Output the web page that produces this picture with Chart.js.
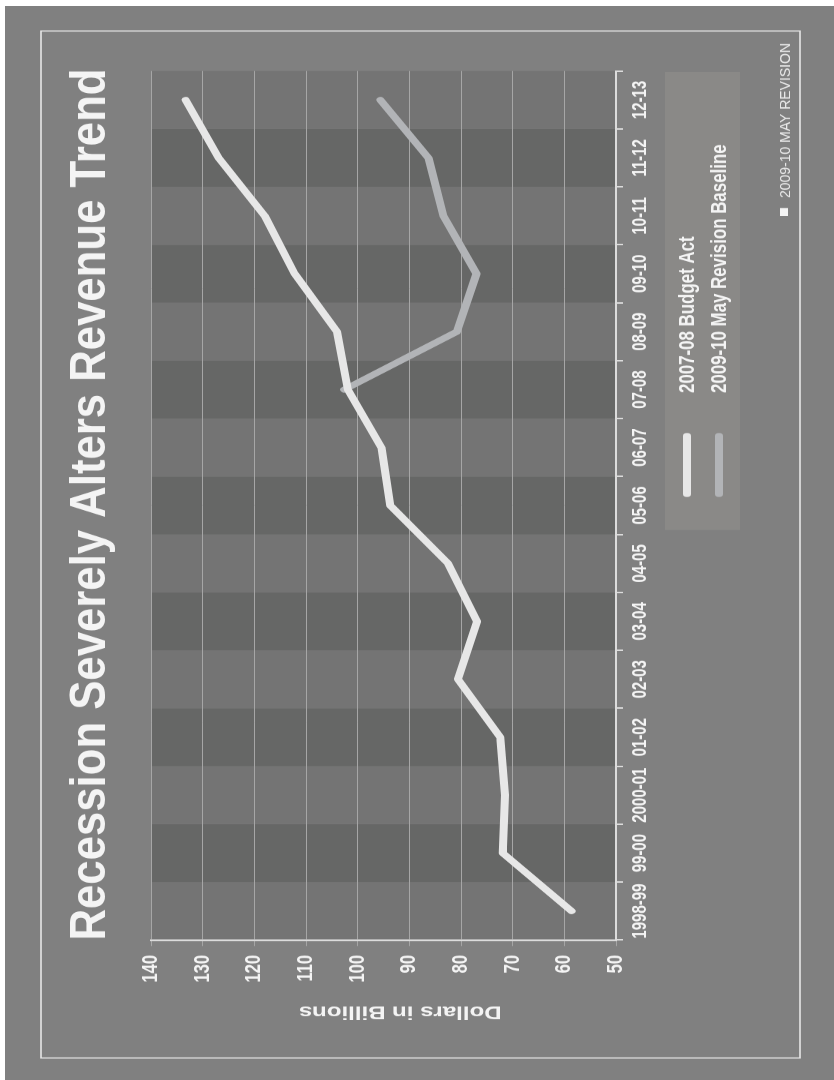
<!DOCTYPE html>
<html>
<head>
<meta charset="utf-8">
<title>Recession Severely Alters Revenue Trend</title>
<script src="https://cdn.jsdelivr.net/npm/chart.js@4.4.1/dist/chart.umd.min.js"></script>
<style>
  html, body { margin: 0; padding: 0; background: #fff; }
  body { width: 834px; height: 1080px; overflow: hidden; position: relative; }
  /* chart laid out landscape on a wider canvas, squeezed along its width
     (condensed type like the original) and then turned a quarter to the left */
  #wrap {
    position: absolute; left: 0; top: 0;
    width: 1440px; height: 834px;
    transform-origin: 0 0;
    transform: translate(0, 1080px) rotate(-90deg) scaleX(0.75);
  }
</style>
</head>
<body>
<div id="wrap"><canvas id="revenueChart" width="1440" height="834"></canvas></div>

<script>
// --- Data (billions of dollars) ---
const categories = ['1998-99', '99-00', '2000-01', '01-02', '02-03', '03-04', '04-05',
                    '05-06', '06-07', '07-08', '08-09', '09-10', '10-11', '11-12', '12-13'];
const budgetAct   = [58.6, 71.9, 71.5, 72.4, 80.6, 76.9, 82.5, 93.7, 95.4, 101.9, 104.0, 112.2, 118.0, 126.9, 133.3];
const mayRevision = [null, null, null, null, null, null, null, null, null, 102.6, 80.8, 77.0, 83.4, 86.3, 95.6];
const seriesNames = ['2007-08 Budget Act', '2009-10 May Revision Baseline'];
const yTicks = [50, 60, 70, 80, 90, 100, 110, 120, 130, 140];

const TITLE = 'Recession Severely Alters Revenue Trend';
const Y_TITLE = 'Dollars in Billions';
const FOOTNOTE = '2009-10 MAY REVISION';

// horizontal squeeze applied by the css transform (keep in sync with #wrap)
const K = 0.75;
const U = (px) => px / K;   // page length along the category axis -> canvas px

// --- Colours ---
const COLORS = {
    outer: '#808080',
    bandLight: '#747474',
    bandDark: '#666766',
    frame: '#e6e6e6',
    grid: '#a6a6a6',
    axis: '#dcdcdc',
    text: '#f4f4f4',
    legendBox: '#8a8987',
    budget: '#e7e7e7',
    revision: '#b2b4b7'
};
const FONT = '"Liberation Sans", Arial, sans-serif';

// draws text stretched/squeezed to an exact width
function fittedText(ctx, text, x, y, width, align) {
    const sx = width / ctx.measureText(text).width;
    ctx.save();
    ctx.translate(x, y);
    ctx.scale(sx, 1);
    ctx.textAlign = align;
    ctx.fillText(text, 0, 0);
    ctx.restore();
}

// ================================================================
// Background, frame, striped plot area, title, legend, footnote
// ================================================================
const backdropPlugin = {
    id: 'backdrop',
    beforeDraw(chart) {
        const { ctx, chartArea: a, scales: { x } } = chart;
        ctx.save();
        ctx.fillStyle = COLORS.outer;
        ctx.fillRect(0, 5, U(1074), 829);

        ctx.strokeStyle = COLORS.frame;
        ctx.lineWidth = 1.6;
        ctx.strokeRect(U(22), 41, U(1027), 759);

        // one band per category, every other one darker
        const half = (x.getPixelForValue(1) - x.getPixelForValue(0)) / 2;
        categories.forEach((c, i) => {
            const cx = x.getPixelForValue(i);
            ctx.fillStyle = i % 2 ? COLORS.bandDark : COLORS.bandLight;
            ctx.fillRect(cx - half, a.top, half * 2, a.bottom - a.top);
        });
        ctx.restore();
    },
    afterDraw(chart) {
        const { ctx, chartArea: a } = chart;
        ctx.save();

        // title
        ctx.fillStyle = COLORS.text;
        ctx.font = 'bold 50px ' + FONT;
        ctx.textBaseline = 'alphabetic';
        fittedText(ctx, TITLE, (a.left + a.right) / 2 + U(1), 105, U(872), 'center');

        // legend box
        ctx.fillStyle = COLORS.legendBox;
        ctx.fillRect(U(550), 665, U(458), 75);
        chart.data.datasets.forEach((ds, i) => {
            const v = 687 + i * 32;
            ctx.strokeStyle = ds.borderColor;
            ctx.lineWidth = 8;
            ctx.lineCap = 'round';
            ctx.beginPath();
            ctx.moveTo(U(586), v);
            ctx.lineTo(U(644), v);
            ctx.stroke();
            ctx.fillStyle = COLORS.text;
            ctx.font = 'bold 22.5px ' + FONT;
            ctx.textBaseline = 'middle';
            ctx.textAlign = 'left';
            ctx.fillText(ds.label, U(687), v + 1);
        });

        // footnote
        ctx.fillStyle = COLORS.text;
        ctx.fillRect(U(864), 780, U(8), 8);
        ctx.fillStyle = '#e8e8e8';
        ctx.font = '15px ' + FONT;
        ctx.textBaseline = 'alphabetic';
        fittedText(ctx, FOOTNOTE, U(1037), 790, U(155), 'right');
        ctx.restore();
    }
};

// ================================================================
// Chart
// ================================================================
Chart.defaults.font.family = FONT;
Chart.defaults.color = COLORS.text;

new Chart(document.getElementById('revenueChart'), {
    type: 'line',
    data: {
        labels: categories,
        datasets: [
            {
                label: seriesNames[0],
                data: budgetAct,
                borderColor: COLORS.budget,
                borderWidth: 8,
                borderCapStyle: 'round',
                borderJoinStyle: 'round',
                pointRadius: 0,
                tension: 0,
                fill: false
            },
            {
                label: seriesNames[1],
                data: mayRevision,
                borderColor: COLORS.revision,
                borderWidth: 8,
                borderCapStyle: 'round',
                borderJoinStyle: 'round',
                pointRadius: 0,
                tension: 0,
                fill: false
            }
        ]
    },
    options: {
        responsive: false,
        animation: false,
        devicePixelRatio: 1,
        layout: { padding: { left: U(40), right: U(71), top: 151, bottom: 178 } },
        plugins: {
            legend: { display: false },
            title: { display: false },
            tooltip: { enabled: false }
        },
        scales: {
            x: {
                offset: true,
                afterFit: (s) => { s.height = 40; },
                grid: {
                    offset: true,
                    drawOnChartArea: false,
                    color: COLORS.axis,
                    lineWidth: 2,
                    tickLength: 7
                },
                border: { color: COLORS.axis, width: 2 },
                ticks: {
                    autoSkip: false,
                    maxRotation: 0,
                    padding: 5,
                    color: COLORS.text,
                    font: { size: 20, weight: 'bold' }
                }
            },
            y: {
                min: yTicks[0],
                max: yTicks[yTicks.length - 1],
                afterFit: (s) => { s.width = U(100); },
                afterBuildTicks: (s) => { s.ticks = yTicks.map(v => ({ value: v })); },
                grid: { color: COLORS.grid, lineWidth: 1, tickLength: 8 },
                border: { color: COLORS.axis, width: 2.5 },
                ticks: {
                    padding: 12,
                    color: COLORS.text,
                    font: { size: 22, weight: 'bold' }
                },
                title: {
                    display: true,
                    // trailing no-break spaces nudge the centred title toward the low end, as in the original
                    text: Y_TITLE + '\u00a0\u00a0\u00a0\u00a0\u00a0',
                    color: COLORS.text,
                    padding: { top: 24, bottom: 0 },
                    font: { size: 24, weight: 'bold' }
                }
            }
        }
    },
    plugins: [backdropPlugin]
});
</script>
</body>
</html>
